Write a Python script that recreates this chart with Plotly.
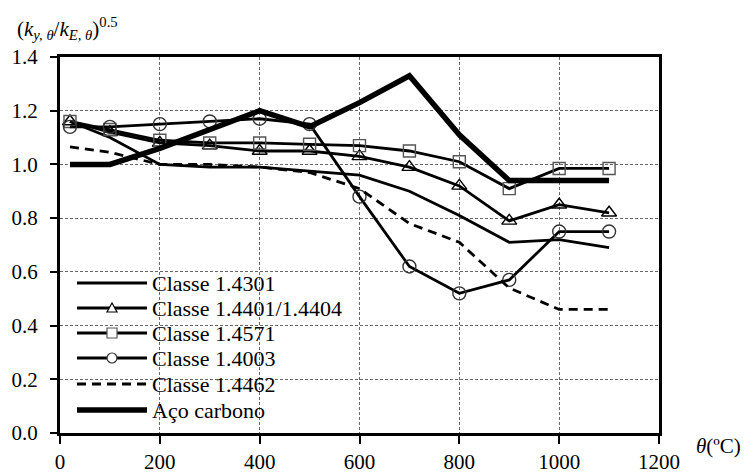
import plotly.graph_objects as go

temps = [20, 100, 200, 300, 400, 500, 600, 700, 800, 900, 1000, 1100]
c4301 = [1.16, 1.10, 1.00, 0.99, 0.99, 0.975, 0.96, 0.90, 0.81, 0.71, 0.72, 0.69]
c4401 = [1.16, 1.12, 1.08, 1.07, 1.05, 1.05, 1.03, 0.99, 0.92, 0.79, 0.85, 0.82]
c4571 = [1.16, 1.13, 1.09, 1.08, 1.08, 1.075, 1.07, 1.05, 1.01, 0.91, 0.985, 0.985]
c4003 = [1.14, 1.14, 1.15, 1.16, 1.17, 1.15, 0.88, 0.62, 0.52, 0.57, 0.75, 0.75]
c4462 = [1.065, 1.045, 1.00, 1.00, 0.99, 0.97, 0.91, 0.78, 0.71, 0.54, 0.46, 0.46]
carbon = [1.00, 1.00, 1.06, 1.13, 1.20, 1.14, 1.23, 1.33, 1.11, 0.94, 0.94, 0.94]

names = ["Classe 1.4301", "Classe 1.4401/1.4404", "Classe 1.4571",
         "Classe 1.4003", "Classe 1.4462", "Aço carbono"]
x_ticks = [0, 200, 400, 600, 800, 1000, 1200]
y_ticks = [0.0, 0.2, 0.4, 0.6, 0.8, 1.0, 1.2, 1.4]

FONT = "Liberation Serif"

# plot area geometry in pixels (for the hand-built legend)
L, R, T, B = 60, 95, 57, 41
W, H = 754, 474
PW, PH = W - L - R, H - T - B


def px(x):
    return (x - L) / PW


def py(y):
    return (H - B - y) / PH


styles = [
    dict(line=dict(color="black", width=2.8), symbol=None),
    dict(line=dict(color="black", width=2.8), symbol="triangle-up-open", mcolor="black", msize=13),
    dict(line=dict(color="black", width=2.8), symbol="square-open", mcolor="#555555", msize=12),
    dict(line=dict(color="black", width=2.8), symbol="circle-open", mcolor="#333333", msize=13),
    dict(line=dict(color="black", width=2.8, dash="9px,6px"), symbol=None),
    dict(line=dict(color="black", width=5.5), symbol=None),
]
series = [c4301, c4401, c4571, c4003, c4462, carbon]

fig = go.Figure()
for name, ys, st in zip(names, series, styles):
    kw = dict(x=temps, y=ys, name=name, line=st["line"], showlegend=False)
    if st["symbol"]:
        kw["mode"] = "lines+markers"
        kw["marker"] = dict(symbol=st["symbol"], size=st["msize"], color=st["mcolor"],
                            line=dict(width=1.4, color=st["mcolor"]))
    else:
        kw["mode"] = "lines"
    fig.add_trace(go.Scatter(**kw))

# hand-built legend (white box, line samples and labels)
shapes = [dict(type="rect", xref="paper", yref="paper", layer="between",
               x0=px(67), x1=px(352), y0=py(421), y1=py(270),
               fillcolor="white", line=dict(width=0))]
annotations = []
row_y = [283, 308, 333, 358, 384, 410]
lx0, lx1, mx, tx = 77, 147, 112, 150
for name, st, ry in zip(names, styles, row_y):
    ln = st["line"]
    shapes.append(dict(type="line", xref="paper", yref="paper",
                       x0=px(lx0), x1=px(lx1), y0=py(ry), y1=py(ry),
                       line=dict(color=ln["color"], width=ln["width"],
                                 dash=ln.get("dash", "solid"))))
    s = st["symbol"]
    if s:
        c = st["mcolor"]
        if s.startswith("triangle"):
            path = (f"M{px(mx - 5)},{py(ry + 4)} L{px(mx + 5)},{py(ry + 4)} "
                    f"L{px(mx)},{py(ry - 5)} Z")
            shapes.append(dict(type="path", xref="paper", yref="paper", path=path,
                               fillcolor="white", line=dict(color=c, width=1.2)))
        elif s.startswith("square"):
            shapes.append(dict(type="rect", xref="paper", yref="paper",
                               x0=px(mx - 5), x1=px(mx + 5), y0=py(ry + 5), y1=py(ry - 5),
                               fillcolor="white", line=dict(color=c, width=1.2)))
        else:
            shapes.append(dict(type="circle", xref="paper", yref="paper",
                               x0=px(mx - 5), x1=px(mx + 5), y0=py(ry + 5), y1=py(ry - 5),
                               fillcolor="white", line=dict(color=c, width=1.2)))
    annotations.append(dict(xref="paper", yref="paper", x=px(tx), y=py(ry),
                            xanchor="left", yanchor="middle", showarrow=False,
                            text=name, font=dict(size=22, family=FONT)))

annotations += [
    dict(xref="paper", yref="paper", x=-0.075, y=1.075, xanchor="left", yanchor="middle",
         showarrow=False, font=dict(size=21, family=FONT),
         text="(<i>k</i><sub><i>y, θ</i></sub>/<i>k</i><sub><i>E, θ</i></sub>)<sup>0.5</sup>"),
    dict(xref="paper", yref="paper", x=1.058, y=-0.035, xanchor="left", yanchor="middle",
         showarrow=False, font=dict(size=21, family=FONT),
         text="<i>θ</i>(ºC)"),
]

fig.update_layout(
    width=W, height=H,
    margin=dict(l=L, r=R, t=T, b=B, autoexpand=False),
    paper_bgcolor="white", plot_bgcolor="white",
    font=dict(family=FONT, size=21, color="black"),
    showlegend=False,
    xaxis=dict(range=[0, 1200], tickvals=x_ticks, ticktext=[str(v) for v in x_ticks],
               tickfont=dict(family=FONT, size=21), automargin=False,
               showline=True, linewidth=3, linecolor="black", mirror=True,
               ticks="outside", ticklen=8, tickwidth=1.5, tickcolor="black",
               showgrid=True, gridcolor="#666666", gridwidth=1, griddash="3px,2px",
               zeroline=False, ticklabelstandoff=0),
    yaxis=dict(range=[0, 1.4], tickvals=y_ticks, ticktext=[f"{v:.1f}" for v in y_ticks],
               tickfont=dict(family=FONT, size=21), automargin=False,
               showline=True, linewidth=3, linecolor="black", mirror=True,
               ticks="outside", ticklen=7, tickwidth=1.5, tickcolor="black",
               showgrid=True, gridcolor="#666666", gridwidth=1, griddash="3px,2px",
               zeroline=False, ticklabelstandoff=8),
    shapes=shapes,
    annotations=annotations,
)

fig.write_html("out.html")
